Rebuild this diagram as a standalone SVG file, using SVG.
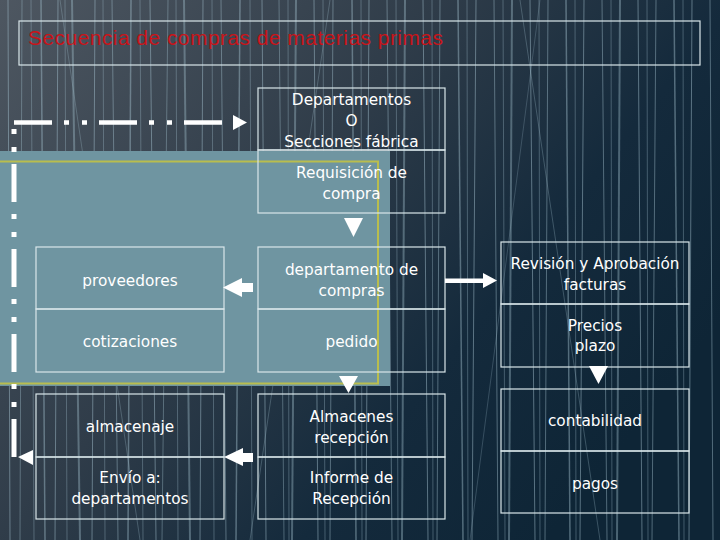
<svg xmlns="http://www.w3.org/2000/svg" width="720" height="540" viewBox="0 0 720 540">
<defs>
<linearGradient id="bg" x1="0" y1="0" x2="1" y2="0.6">
<stop offset="0" stop-color="#4e5761"/>
<stop offset="0.45" stop-color="#2f3c49"/>
<stop offset="0.75" stop-color="#142a3c"/>
<stop offset="1" stop-color="#0e2536"/>
</linearGradient>
<style>
.box{fill:none;stroke:#d9e6ea;stroke-width:1.2}
.t{font-family:"DejaVu Sans",Verdana,sans-serif;font-size:15.3px;fill:#ffffff;text-anchor:middle}
.streak{stroke:#a3c0ce;fill:none}
.wh{fill:#ffffff}
.dd{fill:none;stroke:#ffffff;stroke-dasharray:38 12 5 13 5 12}
</style>
</defs>
<rect width="720" height="540" fill="url(#bg)"/>
<g id="background" class="streak">
<path d="M8 0 L10 540" stroke-width="1" opacity="0.5"/>
<path d="M22 0 L20 540" stroke-width="1" opacity="0.4"/>
<path d="M31 0 L34 540" stroke-width="1" opacity="0.35"/>
<path d="M41 0 L45 540" stroke-width="1.5" opacity="0.45"/>
<path d="M58 0 L55 540" stroke-width="1" opacity="0.5"/>
<path d="M65 0 L67 540" stroke-width="1" opacity="0.35"/>
<path d="M72 0 L80 540" stroke-width="2" opacity="0.4"/>
<path d="M95 0 L92 540" stroke-width="1" opacity="0.5"/>
<path d="M103 0 L105 540" stroke-width="1" opacity="0.35"/>
<path d="M112 0 L118 540" stroke-width="1" opacity="0.45"/>
<path d="M131 0 L128 540" stroke-width="1.5" opacity="0.45"/>
<path d="M140 0 L143 540" stroke-width="1" opacity="0.35"/>
<path d="M150 0 L156 540" stroke-width="1" opacity="0.5"/>
<path d="M168 0 L162 540" stroke-width="1" opacity="0.4"/>
<path d="M176 0 L178 540" stroke-width="1" opacity="0.35"/>
<path d="M184 0 L190 540" stroke-width="2" opacity="0.4"/>
<path d="M203 0 L200 540" stroke-width="1" opacity="0.5"/>
<path d="M212 0 L214 540" stroke-width="1" opacity="0.35"/>
<path d="M221 0 L226 540" stroke-width="1" opacity="0.45"/>
<path d="M240 0 L236 540" stroke-width="1.5" opacity="0.45"/>
<path d="M250 0 L252 540" stroke-width="1" opacity="0.35"/>
<path d="M262 0 L266 540" stroke-width="1" opacity="0.5"/>
<path d="M279 0 L284 540" stroke-width="1" opacity="0.4"/>
<path d="M288 0 L289 540" stroke-width="1" opacity="0.35"/>
<path d="M296 0 L292 540" stroke-width="2" opacity="0.4"/>
<path d="M314 0 L318 540" stroke-width="1" opacity="0.5"/>
<path d="M323 0 L325 540" stroke-width="1" opacity="0.35"/>
<path d="M333 0 L330 540" stroke-width="1" opacity="0.45"/>
<path d="M352 0 L356 540" stroke-width="1.5" opacity="0.45"/>
<path d="M361 0 L362 540" stroke-width="1" opacity="0.35"/>
<path d="M369 0 L366 540" stroke-width="1" opacity="0.5"/>
<path d="M387 0 L392 540" stroke-width="1" opacity="0.45"/>
<path d="M396 0 L398 540" stroke-width="1" opacity="0.35"/>
<path d="M405 0 L402 540" stroke-width="2" opacity="0.4"/>
<path d="M423 0 L428 540" stroke-width="1" opacity="0.5"/>
<path d="M432 0 L433 540" stroke-width="1" opacity="0.35"/>
<path d="M440 0 L437 540" stroke-width="1" opacity="0.45"/>
<path d="M458 0 L463 540" stroke-width="1.5" opacity="0.45"/>
<path d="M467 0 L468 540" stroke-width="1" opacity="0.35"/>
<path d="M476 0 L472 540" stroke-width="1" opacity="0.5"/>
<path d="M494 0 L498 540" stroke-width="1" opacity="0.45"/>
<path d="M503 0 L505 540" stroke-width="1" opacity="0.35"/>
<path d="M512 0 L509 540" stroke-width="2" opacity="0.4"/>
<path d="M530 0 L535 540" stroke-width="1" opacity="0.5"/>
<path d="M539 0 L540 540" stroke-width="1" opacity="0.35"/>
<path d="M548 0 L545 540" stroke-width="1" opacity="0.45"/>
<path d="M566 0 L570 540" stroke-width="1.5" opacity="0.45"/>
<path d="M575 0 L576 540" stroke-width="1" opacity="0.35"/>
<path d="M584 0 L580 540" stroke-width="1" opacity="0.5"/>
<path d="M602 0 L607 540" stroke-width="1" opacity="0.45"/>
<path d="M611 0 L612 540" stroke-width="1" opacity="0.35"/>
<path d="M620 0 L617 540" stroke-width="2" opacity="0.4"/>
<path d="M638 0 L642 540" stroke-width="1" opacity="0.5"/>
<path d="M647 0 L648 540" stroke-width="1" opacity="0.35"/>
<path d="M656 0 L652 540" stroke-width="1" opacity="0.45"/>
<path d="M674 0 L679 540" stroke-width="1.5" opacity="0.45"/>
<path d="M683 0 L684 540" stroke-width="1" opacity="0.35"/>
<path d="M692 0 L689 540" stroke-width="1" opacity="0.5"/>
<path d="M710 0 L713 540" stroke-width="1" opacity="0.45"/>
<path d="M60 0 L140 540" stroke-width="1" opacity="0.3"/>
<path d="M330 0 L250 540" stroke-width="1" opacity="0.3"/>
<path d="M520 0 L600 540" stroke-width="1" opacity="0.3"/>
<path d="M470 540 L540 0" stroke-width="1" opacity="0.25"/>
</g>
<g id="title">
<rect x="19" y="21" width="681" height="44" class="box"/>
<text x="28" y="45" font-family="'Liberation Sans',Arial,sans-serif" font-size="21" fill="#c8141a" textLength="415" lengthAdjust="spacing">Secuencia de compras de materias primas</text>
</g>
<g id="panel">
<rect x="0" y="151" width="390" height="235" fill="#6f95a1"/>
<rect x="-5" y="161.5" width="383" height="222" fill="none" stroke="#b9bd4e" stroke-width="2"/>
</g>
<g id="n-departamentos"><rect x="258" y="88" width="187" height="62" class="box"/>
<text class="t" x="351.5" y="105">Departamentos</text><text class="t" x="351.5" y="126">O</text><text class="t" x="351.5" y="147">Secciones fábrica</text></g>
<g id="n-requisicion"><rect x="258" y="150" width="187" height="63" class="box"/>
<text class="t" x="351.5" y="178">Requisición de</text><text class="t" x="351.5" y="199">compra</text></g>
<g id="n-depcompras"><rect x="258" y="247" width="187" height="62" class="box"/>
<text class="t" x="351.5" y="275">departamento de</text><text class="t" x="351.5" y="296">compras</text></g>
<g id="n-pedido"><rect x="258" y="309" width="187" height="63" class="box"/>
<text class="t" x="351.5" y="347">pedido</text></g>
<g id="n-almacenes"><rect x="258" y="394" width="187" height="63" class="box"/>
<text class="t" x="351.5" y="422">Almacenes</text><text class="t" x="351.5" y="443">recepción</text></g>
<g id="n-informe"><rect x="258" y="457" width="187" height="62" class="box"/>
<text class="t" x="351.5" y="483">Informe de</text><text class="t" x="351.5" y="504">Recepción</text></g>
<g id="n-proveedores"><rect x="36" y="247" width="188" height="62" class="box"/>
<text class="t" x="130" y="285.5">proveedores</text></g>
<g id="n-cotizaciones"><rect x="36" y="309" width="188" height="63" class="box"/>
<text class="t" x="130" y="347">cotizaciones</text></g>
<g id="n-almacenaje"><rect x="36" y="394" width="188" height="63" class="box"/>
<text class="t" x="130" y="432">almacenaje</text></g>
<g id="n-envio"><rect x="36" y="457" width="188" height="62" class="box"/>
<text class="t" x="130" y="483">Envío a:</text><text class="t" x="130" y="504">departamentos</text></g>
<g id="n-revision"><rect x="501" y="242" width="188" height="62" class="box"/>
<text class="t" x="595" y="268.5">Revisión y Aprobación</text><text class="t" x="595" y="289.5">facturas</text></g>
<g id="n-precios"><rect x="501" y="304" width="188" height="63" class="box"/>
<text class="t" x="595" y="330.5">Precios</text><text class="t" x="595" y="351">plazo</text></g>
<g id="n-contabilidad"><rect x="501" y="389" width="188" height="62" class="box"/>
<text class="t" x="595" y="426">contabilidad</text></g>
<g id="n-pagos"><rect x="501" y="451" width="188" height="62" class="box"/>
<text class="t" x="595" y="489">pagos</text></g>
<g id="connectors">
<path class="dd" d="M14 457 V 124" stroke-width="5"/>
<path class="dd" d="M14 122.5 H 232" stroke-width="4.5"/>
<polygon class="wh" points="233,115 233,130 247,122.5"/>
<polygon class="wh" points="18,457 33,450 33,465"/>
<polygon class="wh" points="344,218 363,218 353.5,237"/>
<polygon class="wh" points="339,376 358,376 348.5,393"/>
<polygon class="wh" points="589,366 608,366 598.5,384"/>
<polygon class="wh" points="223,287.5 242,278 242,283 253,283 253,292 242,292 242,297"/>
<polygon class="wh" points="224,457 243,448 243,453 253,453 253,462 243,462 243,466"/>
<polygon class="wh" points="445,278.5 483,278.5 483,273 497,280.5 483,288 483,283 445,283"/>
</g>
</svg>
